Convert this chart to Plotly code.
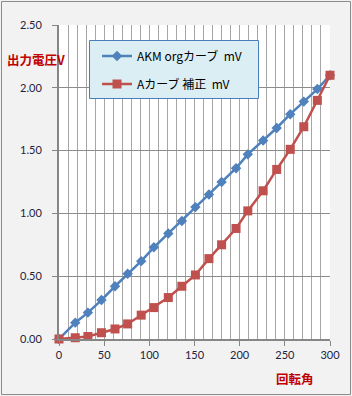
import plotly.graph_objects as go

angle = [0, 18, 32, 47, 62, 76, 91, 105, 121, 136, 151, 166, 180, 196, 209, 226, 241, 256, 271, 286, 300]
akm_org = [0.00, 0.13, 0.21, 0.31, 0.42, 0.52, 0.62, 0.73, 0.84, 0.94, 1.05, 1.15, 1.25, 1.36, 1.47, 1.58, 1.68, 1.79, 1.89, 1.99, 2.10]
a_hosei = [0.00, 0.01, 0.02, 0.05, 0.08, 0.12, 0.19, 0.25, 0.33, 0.42, 0.51, 0.64, 0.75, 0.88, 1.02, 1.18, 1.35, 1.51, 1.69, 1.90, 2.10]
series_names = ["AKM orgカーブ  mV", "Aカーブ 補正  mV"]
y_ticks = [0, 0.5, 1.0, 1.5, 2.0, 2.5]
x_ticks = [0, 50, 100, 150, 200, 250, 300]

W, H = 352, 396
L, R, T, B = 59, 22, 25, 57
pw, ph = W - L - R, H - T - B

def px_x(p):
    return (p - L) / pw

def px_y(p):
    return (H - B - p) / ph

font_main = "Lato, Noto Sans CJK JP, sans-serif"
font_cjk = "Noto Sans CJK JP, sans-serif"

fig = go.Figure()
fig.add_trace(go.Scatter(
    x=angle, y=akm_org, name=series_names[0], mode="lines+markers",
    line=dict(color="#4f81bd", width=2.5),
    marker=dict(symbol="diamond", size=8, color="#4f81bd"),
    cliponaxis=False, legendgroup="a"))
fig.add_trace(go.Scatter(
    x=angle, y=a_hosei, name=series_names[1], mode="lines+markers",
    line=dict(color="#c0504d", width=2.5),
    marker=dict(symbol="square", size=9, color="#c0504d"),
    cliponaxis=False, legendgroup="b"))

fig.update_layout(
    width=W, height=H,
    margin=dict(l=L, r=R, t=T, b=B, pad=0),
    paper_bgcolor="#f2f2f2", plot_bgcolor="#ffffff",
    showlegend=True,
    legend=dict(
        x=px_x(97), y=px_y(41.5), xanchor="left", yanchor="top",
        bgcolor="rgba(0,0,0,0)", borderwidth=0,
        font=dict(family=font_cjk, size=12, color="#000000"),
        tracegroupgap=9, itemwidth=30,
    ),
    xaxis=dict(
        range=[0, 300], tickvals=x_ticks, showgrid=True,
        gridcolor="#a6a6a6", gridwidth=1,
        minor=dict(dtick=10, showgrid=True, gridcolor="#a6a6a6", gridwidth=1),
        showline=True, linecolor="#868686", linewidth=1.5,
        ticks="outside", ticklen=5, tickcolor="#868686",
        tickfont=dict(family=font_main, size=11, color="#1f2340"),
        zeroline=False, mirror=False,
    ),
    yaxis=dict(
        range=[0, 2.5], tickvals=y_ticks, tickformat=".2f",
        showgrid=True, gridcolor="#8c8c8c", gridwidth=1,
        showline=True, linecolor="#868686", linewidth=2,
        ticks="outside", ticklen=5, tickcolor="#868686",
        ticklabelstandoff=8,
        tickfont=dict(family=font_main, size=11, color="#1f2340"),
        zeroline=False,
    ),
    annotations=[
        dict(text="<b>出力電圧V</b>", x=px_x(5), y=px_y(60), xref="paper", yref="paper",
             xanchor="left", yanchor="middle", showarrow=False,
             font=dict(family=font_cjk, size=12.5, color="#c00000")),
        dict(text="<b>回転角</b>", x=px_x(274), y=px_y(378), xref="paper", yref="paper",
             xanchor="left", yanchor="middle", showarrow=False,
             font=dict(family=font_cjk, size=12.5, color="#c00000")),
    ],
    shapes=[
        dict(type="rect", xref="paper", yref="paper",
             x0=px_x(1.5), x1=px_x(350.5), y0=px_y(1.5), y1=px_y(394.5),
             line=dict(color="#8c8c8c", width=1), fillcolor="rgba(0,0,0,0)", layer="below"),
        dict(type="rect", xref="paper", yref="paper",
             x0=px_x(89.5), x1=px_x(258.5), y0=px_y(40.5), y1=px_y(98.5),
             line=dict(color="#4a7ebb", width=1), fillcolor="#dbeef4", layer="above"),
    ],
)

fig.write_html("out.html")
